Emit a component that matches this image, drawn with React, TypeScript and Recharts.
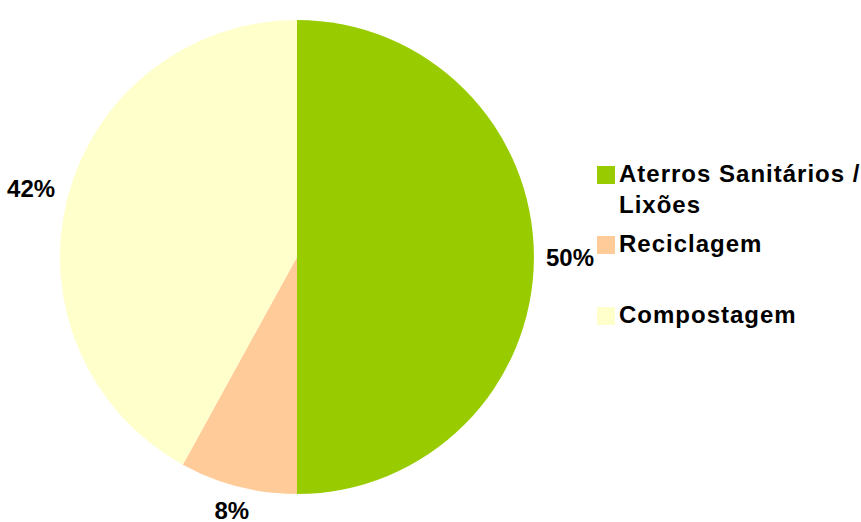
import React from "react";
import { PieChart, Pie, Cell, Legend } from "recharts";

const categories = ["Aterros Sanitários / Lixões", "Reciclagem", "Compostagem"];
const legendLines = [["Aterros Sanitários /", "Lixões"], ["Reciclagem"], ["Compostagem"]];
const values = [50, 8, 42];
const colors = ["#99CC00", "#FFCC99", "#FFFFCC"];

const data = categories.map((name, i) => ({ name, value: values[i] }));

const FONT = '"Liberation Sans", Arial, sans-serif';
const RAD = Math.PI / 180;
const LABEL_SIZE = 24;

const renderLabel = (props: any) => {
  const { cx, cy, midAngle, outerRadius, percent } = props;
  const txt = `${Math.round(percent * 100)}%`;
  const halfW = (txt.length - 1) * LABEL_SIZE * 0.278 + LABEL_SIZE * 0.445;
  const halfH = 9;
  const c = Math.cos(-midAngle * RAD);
  const s = Math.sin(-midAngle * RAD);
  const r = outerRadius + 12 + Math.abs(c) * halfW + Math.abs(s) * halfH;
  const x = cx + r * c;
  const y = cy + r * s;
  return (
    <text
      x={x}
      y={y}
      textAnchor="middle"
      dominantBaseline="central"
      fontFamily={FONT}
      fontWeight="bold"
      fontSize={LABEL_SIZE}
      fill="#000"
    >
      {txt}
    </text>
  );
};

const itemTops = [0, 70, 141];

const renderLegend = () => (
  <div style={{ position: "relative", width: 264, height: 180 }}>
    {legendLines.map((lines, i) => (
      <div key={i} style={{ position: "absolute", left: 0, top: itemTops[i] }}>
        <div
          style={{
            position: "absolute",
            left: 0,
            top: 8,
            width: 18,
            height: 18,
            background: colors[i],
          }}
        />
        <div
          style={{
            position: "absolute",
            left: 22,
            top: 0,
            whiteSpace: "nowrap",
            fontFamily: FONT,
            fontWeight: "bold",
            fontSize: 24,
            lineHeight: "31px",
            letterSpacing: 1,
            color: "#000",
          }}
        >
          {lines.map((l, j) => (
            <div key={j}>{l}</div>
          ))}
        </div>
      </div>
    ))}
  </div>
);

export default function App() {
  return (
    <div style={{ position: "absolute", left: 0, top: 0, width: 861, height: 522, background: "#fff" }}>
      <PieChart width={861} height={522} margin={{ top: 0, right: 0, bottom: 0, left: 0 }}>
        <Pie
          data={data}
          dataKey="value"
          nameKey="name"
          cx={297}
          cy={257}
          outerRadius={237}
          startAngle={90}
          endAngle={-270}
          stroke="none"
          label={renderLabel}
          labelLine={false}
          isAnimationActive={false}
        >
          {data.map((d, i) => (
            <Cell key={d.name} fill={colors[i]} />
          ))}
        </Pie>
        <Legend
          content={renderLegend}
          wrapperStyle={{ position: "absolute", left: 597, top: 158, width: 264, height: 180 }}
        />
      </PieChart>
    </div>
  );
}
